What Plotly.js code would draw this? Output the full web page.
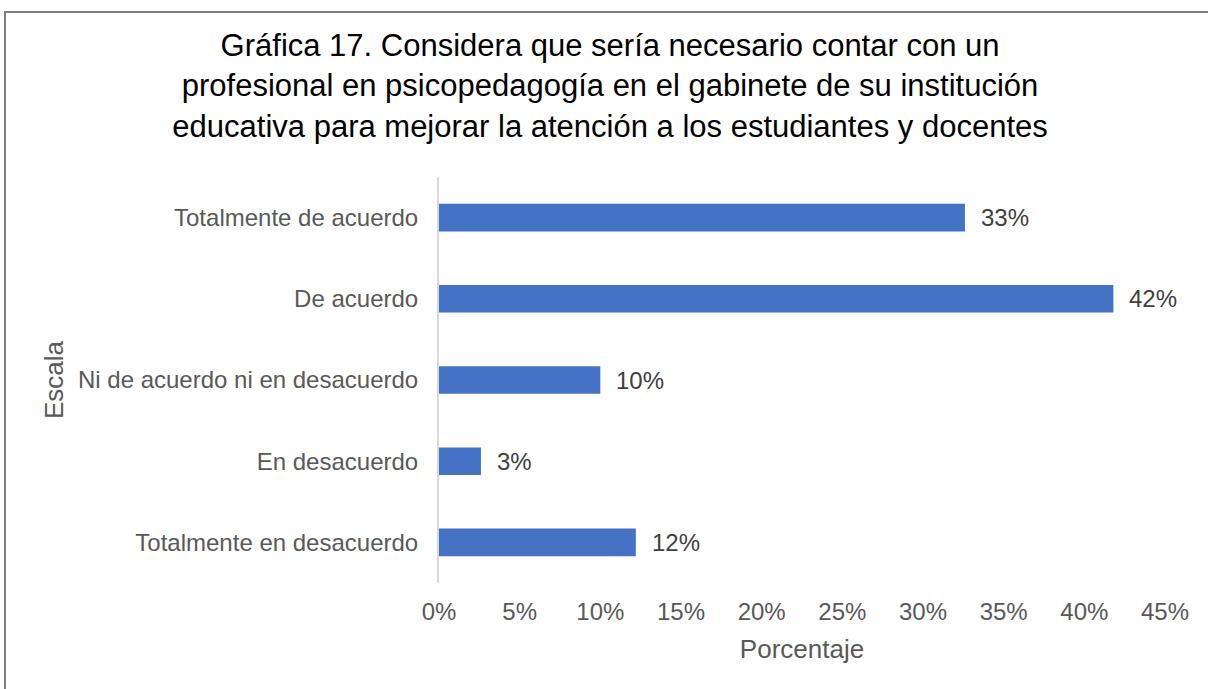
<!DOCTYPE html>
<html>
<head>
<meta charset="utf-8">
<script src="https://cdn.plot.ly/plotly-3.0.1.min.js"></script>
<style>
  html, body { margin: 0; padding: 0; background: #fff; }
  #frame { position: absolute; left: 4px; top: 11px; width: 1210px; height: 690px; border: 2px solid #7f7f7f; box-sizing: border-box; }
  #chart { position: absolute; left: 0; top: 0; width: 1208px; height: 689px; }
</style>
</head>
<body>
<div id="frame"></div>
<div id="chart"></div>
<script>
const categories = [
  "Totalmente de acuerdo",
  "De acuerdo",
  "Ni de acuerdo ni en desacuerdo",
  "En desacuerdo",
  "Totalmente en desacuerdo"
];
const values = [32.6, 41.8, 10.0, 2.6, 12.2];
const labels = ["33%", "42%", "10%", "3%", "12%"];
const xTicks = [0, 5, 10, 15, 20, 25, 30, 35, 40, 45];
const xTickLabels = ["0%", "5%", "10%", "15%", "20%", "25%", "30%", "35%", "40%", "45%"];

const fontFam = "Liberation Sans, Arial, sans-serif";

const trace = {
  type: "bar",
  orientation: "h",
  y: categories,
  x: values,
  marker: { color: "#4472C4" },
  width: 0.34,
  hoverinfo: "skip"
};

const annotations = values.map((v, i) => ({
  x: v, y: categories[i], xref: "x", yref: "y",
  text: labels[i], showarrow: false, xanchor: "left", yanchor: "middle",
  xshift: 14, font: { family: fontFam, size: 24, color: "#404040" }
}));

const layout = {
  width: 1208, height: 689,
  paper_bgcolor: "rgba(0,0,0,0)",
  plot_bgcolor: "rgba(0,0,0,0)",
  margin: { l: 439, r: 43, t: 177, b: 106 },
  showlegend: false,
  title: {
    text: "Gráfica 17. Considera que sería necesario contar con un<br>profesional en psicopedagogía en el gabinete de su institución<br>educativa para mejorar la atención a los estudiantes y docentes",
    font: { family: fontFam, size: 31, color: "#000000" },
    x: 0.505, xanchor: "center", xref: "container",
    y: 1 - 56 / 689, yanchor: "middle", yref: "container"
  },
  xaxis: {
    range: [0, 45],
    tickvals: xTicks,
    ticktext: xTickLabels,
    showgrid: false, zeroline: false, showline: false,
    ticks: "",
    tickfont: { family: fontFam, size: 24, color: "#595959" },
    ticklabelstandoff: 12,
    title: { text: "Porcentaje", font: { family: fontFam, size: 26, color: "#595959" }, standoff: 15 },
    fixedrange: true
  },
  yaxis: {
    autorange: "reversed",
    categoryorder: "array",
    categoryarray: categories,
    showgrid: false, zeroline: false,
    showline: true, linecolor: "#d9d9d9", linewidth: 2,
    ticks: "",
    ticklabelstandoff: 14,
    tickfont: { family: fontFam, size: 24, color: "#595959" },
    title: { text: "Escala", font: { family: fontFam, size: 26, color: "#595959" }, standoff: 7 },
    fixedrange: true
  },
  annotations: annotations
};

Plotly.newPlot("chart", [trace], layout, { displayModeBar: false, staticPlot: true });
</script>
</body>
</html>
